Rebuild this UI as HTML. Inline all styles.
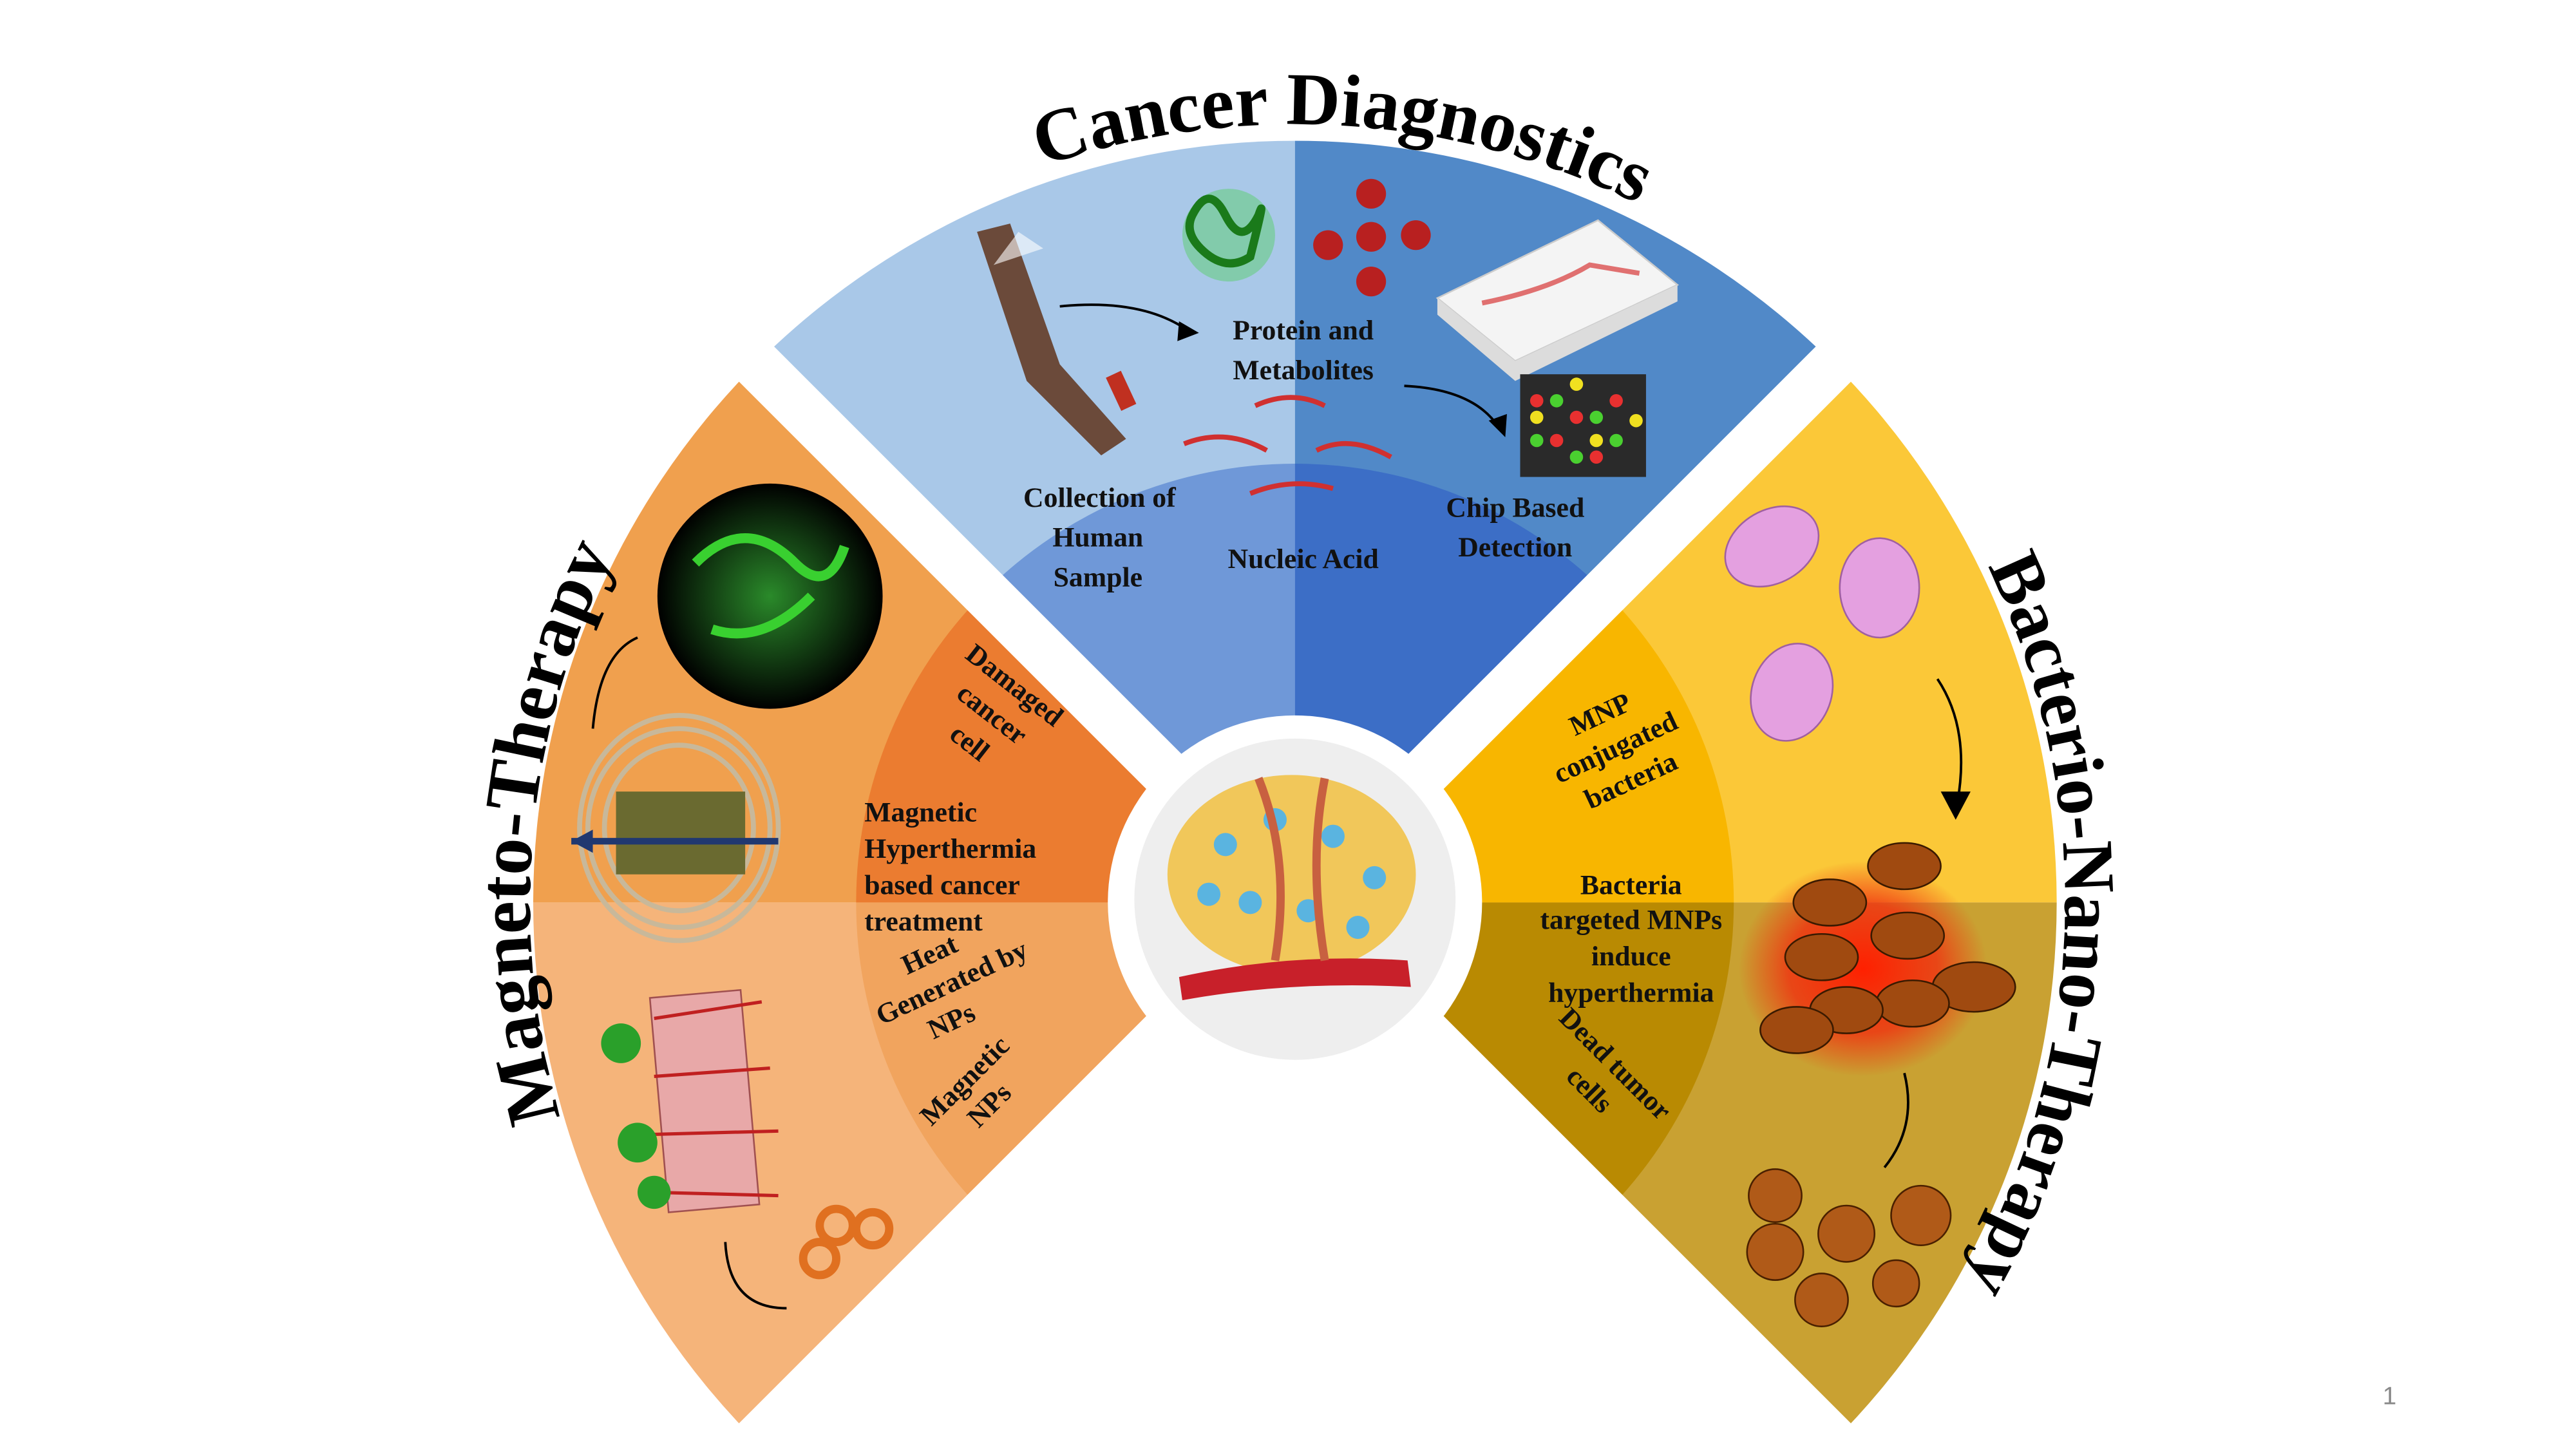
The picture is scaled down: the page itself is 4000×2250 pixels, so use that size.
<!DOCTYPE html>
<html><head><meta charset="utf-8"><style>
html,body{margin:0;padding:0;background:#fff;}
svg{display:block;}
.l{font-family:"Liberation Serif",serif;font-weight:bold;font-size:17px;fill:#111;}
.t{font-family:"Liberation Serif",serif;font-weight:bold;fill:#000;}
</style></head><body>
<svg width="4000" height="2250" viewBox="0 0 1555.6 875" xmlns="http://www.w3.org/2000/svg">
<defs>
<radialGradient id="glow"><stop offset="0" stop-color="#ff2000"/><stop offset="0.6" stop-color="#f03010" stop-opacity="0.8"/><stop offset="1" stop-color="#f03010" stop-opacity="0"/></radialGradient>
<radialGradient id="gg"><stop offset="0" stop-color="#2a8a2a"/><stop offset="1" stop-color="#000"/></radialGradient>
<path id="ptop" d="M312 545 A470 470 0 0 1 1252 545"/>
<path id="pleft" d="M782 1007 A462 462 0 0 1 782 83"/>
<path id="pright" d="M782 80 A465 465 0 0 1 782 1010"/>
</defs>
<path d="M782 545 L456.7 219.7 A460 460 0 0 1 782 85 Z" fill="#a9c8e8"/>
<path d="M782 545 L782 85 A460 460 0 0 1 1107.3 219.7 Z" fill="#5189c8"/>
<path d="M782 545 L594.6 357.6 A265 265 0 0 1 782 280 Z" fill="#6f98d8"/>
<path d="M782 545 L782 280 A265 265 0 0 1 969.4 357.6 Z" fill="#3c6ec6"/>
<path d="M782 545 L456.7 219.7 A460 460 0 0 0 322 545 Z" fill="#f0a04e"/>
<path d="M782 545 L322 545 A460 460 0 0 0 456.7 870.3 Z" fill="#f5b47a"/>
<path d="M782 545 L594.6 357.6 A265 265 0 0 0 517 545 Z" fill="#eb7c30"/>
<path d="M782 545 L517 545 A265 265 0 0 0 594.6 732.4 Z" fill="#f1a45e"/>
<path d="M782 545 L1107.3 219.7 A460 460 0 0 1 1242 545 Z" fill="#fbc838"/>
<path d="M782 545 L1242 545 A460 460 0 0 1 1107.3 870.3 Z" fill="#c9a132"/>
<path d="M782 545 L969.4 357.6 A265 265 0 0 1 1047 545 Z" fill="#f8b600"/>
<path d="M782 545 L1047 545 A265 265 0 0 1 969.4 732.4 Z" fill="#b98a02"/>
<g stroke="#fff" stroke-width="30">
<line x1="782" y1="545" x2="1140" y2="187"/><line x1="782" y1="545" x2="424" y2="187"/>
<line x1="782" y1="545" x2="424" y2="903"/><line x1="782" y1="545" x2="1140" y2="903"/>
</g>
<path d="M456.7 870.3 L782 545 L1107.3 870.3 Z" fill="#fff"/>
<circle cx="782" cy="545" r="113" fill="#fff"/>
<circle cx="782" cy="543" r="97" fill="#eeeeee"/>
<ellipse cx="780" cy="528" rx="75" ry="60" fill="#f1c75a"/>
<g fill="#5ab4e0"><circle cx="740" cy="510" r="7"/><circle cx="770" cy="495" r="7"/><circle cx="805" cy="505" r="7"/><circle cx="830" cy="530" r="7"/><circle cx="755" cy="545" r="7"/><circle cx="790" cy="550" r="7"/><circle cx="820" cy="560" r="7"/><circle cx="730" cy="540" r="7"/></g>
<path d="M712 590 Q780 575 850 580 L852 596 Q780 592 714 604 Z" fill="#c8202a"/>
<path d="M760 470 Q780 520 770 580 M800 470 Q790 520 800 580" stroke="#c86040" stroke-width="5" fill="none"/>
<path d="M590 140 L610 135 L640 220 L680 265 L665 275 L620 230 Z" fill="#6b4a3a"/>
<path d="M615 140 L600 160 L630 150Z" fill="#fff" opacity="0.6"/>
<rect x="672" y="225" width="10" height="22" fill="#c03020" transform="rotate(-25 677 236)"/>
<path d="M640 185 Q690 180 718 200" stroke="#000" stroke-width="1.5" fill="none"/><path d="M712 194 L724 201 L711 206Z"/>
<circle cx="742" cy="142" r="28" fill="#3ad23a" opacity="0.35"/>
<path d="M720 130 q10 -20 20 0 q10 20 20 0 q5 -15 -5 25 q-15 10 -30 -5 q-10 -10 -5 -20" stroke="#1a7a1a" stroke-width="5" fill="none"/>
<g fill="#b82020"><circle cx="828" cy="117" r="9"/><circle cx="802" cy="148" r="9"/><circle cx="828" cy="143" r="9"/><circle cx="855" cy="142" r="9"/><circle cx="828" cy="170" r="9"/></g>
<path d="M868 180 L965 133 L1013 172 L915 218 Z" fill="#f4f4f4" stroke="#ccc"/>
<path d="M915 218 L1013 172 L1013 182 L915 230 L868 190 L868 180 Z" fill="#dcdcdc"/>
<path d="M895 183 Q935 175 960 160 L990 165" stroke="#e07070" stroke-width="3" fill="none"/>
<rect x="918" y="226" width="76" height="62" fill="#2a2a2a"/>
<g fill="#e83030"><circle cx="928" cy="242" r="4"/><circle cx="952" cy="252" r="4"/><circle cx="976" cy="242" r="4"/><circle cx="940" cy="266" r="4"/><circle cx="964" cy="276" r="4"/></g>
<g fill="#4ad030"><circle cx="940" cy="242" r="4"/><circle cx="964" cy="252" r="4"/><circle cx="928" cy="266" r="4"/><circle cx="976" cy="266" r="4"/><circle cx="952" cy="276" r="4"/></g>
<g fill="#f0e020"><circle cx="952" cy="232" r="4"/><circle cx="928" cy="252" r="4"/><circle cx="988" cy="254" r="4"/><circle cx="964" cy="266" r="4"/></g>
<path d="M848 233 Q890 235 905 258" stroke="#000" stroke-width="1.5" fill="none"/><path d="M899 254 L909 264 L910 250Z"/>
<g stroke="#d03030" stroke-width="3" fill="none"><path d="M758 245 Q780 235 800 245"/><path d="M715 268 Q740 258 765 272"/><path d="M795 272 Q815 262 840 276"/><path d="M755 298 Q780 288 805 295"/></g>
<circle cx="465" cy="360" r="68" fill="url(#gg)"/>
<path d="M420 340 q30 -30 60 0 q20 20 30 -10 M430 380 q30 10 60 -20" stroke="#39d030" stroke-width="6" fill="none"/>
<path d="M358 440 Q362 395 385 385" stroke="#000" stroke-width="1.5" fill="none"/>
<g fill="none" stroke="#c8b89a" stroke-width="3"><ellipse cx="410" cy="500" rx="55" ry="60"/><ellipse cx="410" cy="500" rx="45" ry="50"/><ellipse cx="410" cy="500" rx="60" ry="68"/></g>
<rect x="372" y="478" width="78" height="50" fill="#6a6a30"/>
<path d="M345 508 L470 508" stroke="#203870" stroke-width="4"/><path d="M345 508 L358 501 L358 515Z" fill="#203870"/>
<rect x="398" y="600" width="55" height="130" fill="#e8a8a8" stroke="#a05050" transform="rotate(-5 425 665)"/>
<g stroke="#c02020" stroke-width="2"><line x1="395" y1="615" x2="460" y2="605"/><line x1="395" y1="650" x2="465" y2="645"/><line x1="395" y1="685" x2="470" y2="683"/><line x1="395" y1="720" x2="470" y2="722"/></g>
<g fill="#2aa02a"><circle cx="375" cy="630" r="12"/><circle cx="385" cy="690" r="12"/><circle cx="395" cy="720" r="10"/></g>
<g fill="none" stroke="#e07020" stroke-width="5"><circle cx="495" cy="760" r="10"/><circle cx="505" cy="740" r="10"/><circle cx="527" cy="742" r="10"/></g>
<path d="M475 790 Q440 790 438 750" stroke="#000" stroke-width="1.5" fill="none"/>
<g fill="#e4a0e0" stroke="#a060a0"><ellipse cx="1070" cy="330" rx="30" ry="22" transform="rotate(-30 1070 330)"/><ellipse cx="1135" cy="355" rx="24" ry="30"/><ellipse cx="1082" cy="418" rx="24" ry="30" transform="rotate(20 1082 418)"/></g>
<path d="M1170 410 Q1190 440 1182 485" stroke="#000" stroke-width="1.5" fill="none"/><path d="M1172 478 L1181 495 L1190 478Z"/>
<ellipse cx="1125" cy="585" rx="75" ry="65" fill="url(#glow)"/>
<g fill="#a04a10" stroke="#3a1a00"><ellipse cx="1150" cy="523" rx="22" ry="14"/><ellipse cx="1105" cy="545" rx="22" ry="14"/><ellipse cx="1152" cy="565" rx="22" ry="14"/><ellipse cx="1100" cy="578" rx="22" ry="14"/><ellipse cx="1192" cy="596" rx="25" ry="15"/><ellipse cx="1155" cy="606" rx="22" ry="14"/><ellipse cx="1115" cy="610" rx="22" ry="14"/><ellipse cx="1085" cy="622" rx="22" ry="14"/></g>
<path d="M1150 648 Q1158 680 1138 705" stroke="#000" stroke-width="1.5" fill="none"/>
<g fill="#b05a18" stroke="#4a2000"><circle cx="1072" cy="722" r="16"/><circle cx="1160" cy="734" r="18"/><circle cx="1115" cy="745" r="17"/><circle cx="1072" cy="756" r="17"/><circle cx="1145" cy="775" r="14"/><circle cx="1100" cy="785" r="16"/></g>
<text class="l" text-anchor="middle"><tspan x="787" y="205">Protein and</tspan><tspan x="787" y="229">Metabolites</tspan></text>
<text class="l" text-anchor="middle"><tspan x="664" y="306">Collection of</tspan><tspan x="663" y="330">Human</tspan><tspan x="663" y="354">Sample</tspan></text>
<text class="l" x="787" y="343" text-anchor="middle">Nucleic Acid</text>
<text class="l" text-anchor="middle"><tspan x="915" y="312">Chip Based</tspan><tspan x="915" y="336">Detection</tspan></text>
<text class="l" text-anchor="middle" transform="rotate(38 600 430)"><tspan x="600" y="415">Damaged</tspan><tspan x="600" y="437">cancer</tspan><tspan x="600" y="459">cell</tspan></text>
<text class="l"><tspan x="522" y="496">Magnetic</tspan><tspan x="522" y="518">Hyperthermia</tspan><tspan x="522" y="540">based cancer</tspan><tspan x="522" y="562">treatment</tspan></text>
<text class="l" text-anchor="middle" transform="rotate(-25 570 595)"><tspan x="570" y="580">Heat</tspan><tspan x="575" y="601">Generated by</tspan><tspan x="565" y="622">NPs</tspan></text>
<text class="l" text-anchor="middle" transform="rotate(-45 590 660)"><tspan x="590" y="655">Magnetic</tspan><tspan x="590" y="676">NPs</tspan></text>
<text class="l" text-anchor="middle" transform="rotate(-25 975 450)"><tspan x="975" y="435">MNP</tspan><tspan x="975" y="457">conjugated</tspan><tspan x="975" y="479">bacteria</tspan></text>
<text class="l" text-anchor="middle"><tspan x="985" y="540">Bacteria</tspan><tspan x="985" y="561">targeted MNPs</tspan><tspan x="985" y="583">induce</tspan><tspan x="985" y="605">hyperthermia</tspan></text>
<text class="l" text-anchor="middle" transform="rotate(45 968 650)"><tspan x="968" y="645">Dead tumor</tspan><tspan x="968" y="667">cells</tspan></text>
<text class="t" font-size="45"><textPath href="#ptop" startOffset="52%" text-anchor="middle">Cancer Diagnostics</textPath></text>
<text class="t" font-size="45"><textPath href="#pleft" startOffset="53%" text-anchor="middle">Magneto-Therapy</textPath></text>
<text class="t" font-size="44"><textPath href="#pright" startOffset="51%" text-anchor="middle">Bacterio-Nano-Therapy</textPath></text>
<text x="1443" y="848" font-family="Liberation Sans,sans-serif" font-size="15" fill="#888" text-anchor="middle">1</text>
</svg>
</body></html>
